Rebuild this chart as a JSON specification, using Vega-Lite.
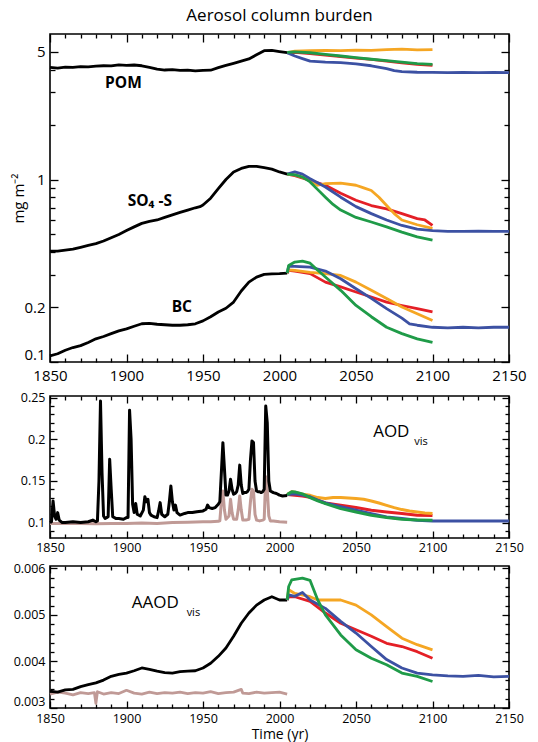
{
  "$schema": "https://vega.github.io/schema/vega-lite/v6.json",
  "padding": {"left": 10, "right": 5, "top": 6, "bottom": 0},
  "spacing": 6,
  "config": {
    "font": "Open Sans",
    "concat": {"spacing": 6},
    "view": {"stroke": "#000", "strokeWidth": 1.6},
    "axis": {"domain": false, "grid": false, "ticks": true, "tickColor": "black", "tickOpacity": 1, "tickWidth": 1.3, "zindex": 1, "labelColor": "#000", "titleColor": "#000", "labelOverlap": false},
    "line": {"strokeWidth": 2.8, "strokeJoin": "round"}
  },
  "datasets": {
    "top": [
      {"s":"POMh","c":"hist","yr":1850,"v":4.12},{"s":"POMh","c":"hist","yr":1855,"v":4.08},{"s":"POMh","c":"hist","yr":1860,"v":4.13},{"s":"POMh","c":"hist","yr":1865,"v":4.11},{"s":"POMh","c":"hist","yr":1870,"v":4.15},{"s":"POMh","c":"hist","yr":1875,"v":4.14},{"s":"POMh","c":"hist","yr":1880,"v":4.18},{"s":"POMh","c":"hist","yr":1885,"v":4.2},{"s":"POMh","c":"hist","yr":1890,"v":4.19},{"s":"POMh","c":"hist","yr":1895,"v":4.25},{"s":"POMh","c":"hist","yr":1900,"v":4.22},{"s":"POMh","c":"hist","yr":1905,"v":4.24},{"s":"POMh","c":"hist","yr":1910,"v":4.2},{"s":"POMh","c":"hist","yr":1915,"v":4.12},{"s":"POMh","c":"hist","yr":1920,"v":4.03},{"s":"POMh","c":"hist","yr":1925,"v":3.98},{"s":"POMh","c":"hist","yr":1930,"v":4.0},{"s":"POMh","c":"hist","yr":1935,"v":3.96},{"s":"POMh","c":"hist","yr":1940,"v":3.97},{"s":"POMh","c":"hist","yr":1945,"v":3.94},{"s":"POMh","c":"hist","yr":1950,"v":3.96},{"s":"POMh","c":"hist","yr":1955,"v":3.97},{"s":"POMh","c":"hist","yr":1960,"v":4.1},{"s":"POMh","c":"hist","yr":1965,"v":4.22},{"s":"POMh","c":"hist","yr":1970,"v":4.33},{"s":"POMh","c":"hist","yr":1975,"v":4.45},{"s":"POMh","c":"hist","yr":1980,"v":4.58},{"s":"POMh","c":"hist","yr":1985,"v":4.82},{"s":"POMh","c":"hist","yr":1990,"v":5.08},{"s":"POMh","c":"hist","yr":1995,"v":5.1},{"s":"POMh","c":"hist","yr":2000,"v":5.02},{"s":"POMh","c":"hist","yr":2005,"v":4.95},
      {"s":"SO4h","c":"hist","yr":1850,"v":0.405},{"s":"SO4h","c":"hist","yr":1855,"v":0.405},{"s":"SO4h","c":"hist","yr":1860,"v":0.41},{"s":"SO4h","c":"hist","yr":1865,"v":0.415},{"s":"SO4h","c":"hist","yr":1870,"v":0.425},{"s":"SO4h","c":"hist","yr":1875,"v":0.435},{"s":"SO4h","c":"hist","yr":1880,"v":0.445},{"s":"SO4h","c":"hist","yr":1885,"v":0.46},{"s":"SO4h","c":"hist","yr":1890,"v":0.48},{"s":"SO4h","c":"hist","yr":1895,"v":0.5},{"s":"SO4h","c":"hist","yr":1900,"v":0.525},{"s":"SO4h","c":"hist","yr":1905,"v":0.55},{"s":"SO4h","c":"hist","yr":1910,"v":0.575},{"s":"SO4h","c":"hist","yr":1915,"v":0.59},{"s":"SO4h","c":"hist","yr":1920,"v":0.6},{"s":"SO4h","c":"hist","yr":1925,"v":0.62},{"s":"SO4h","c":"hist","yr":1930,"v":0.64},{"s":"SO4h","c":"hist","yr":1935,"v":0.66},{"s":"SO4h","c":"hist","yr":1940,"v":0.68},{"s":"SO4h","c":"hist","yr":1945,"v":0.7},{"s":"SO4h","c":"hist","yr":1948,"v":0.71},{"s":"SO4h","c":"hist","yr":1950,"v":0.725},{"s":"SO4h","c":"hist","yr":1955,"v":0.79},{"s":"SO4h","c":"hist","yr":1960,"v":0.89},{"s":"SO4h","c":"hist","yr":1965,"v":1.0},{"s":"SO4h","c":"hist","yr":1970,"v":1.1},{"s":"SO4h","c":"hist","yr":1975,"v":1.15},{"s":"SO4h","c":"hist","yr":1980,"v":1.18},{"s":"SO4h","c":"hist","yr":1985,"v":1.18},{"s":"SO4h","c":"hist","yr":1990,"v":1.16},{"s":"SO4h","c":"hist","yr":1995,"v":1.14},{"s":"SO4h","c":"hist","yr":2000,"v":1.1},{"s":"SO4h","c":"hist","yr":2005,"v":1.07},
      {"s":"BCh","c":"hist","yr":1850,"v":0.108},{"s":"BCh","c":"hist","yr":1855,"v":0.111},{"s":"BCh","c":"hist","yr":1860,"v":0.116},{"s":"BCh","c":"hist","yr":1865,"v":0.12},{"s":"BCh","c":"hist","yr":1870,"v":0.123},{"s":"BCh","c":"hist","yr":1875,"v":0.128},{"s":"BCh","c":"hist","yr":1880,"v":0.134},{"s":"BCh","c":"hist","yr":1885,"v":0.138},{"s":"BCh","c":"hist","yr":1890,"v":0.143},{"s":"BCh","c":"hist","yr":1895,"v":0.148},{"s":"BCh","c":"hist","yr":1900,"v":0.152},{"s":"BCh","c":"hist","yr":1905,"v":0.157},{"s":"BCh","c":"hist","yr":1910,"v":0.162},{"s":"BCh","c":"hist","yr":1915,"v":0.163},{"s":"BCh","c":"hist","yr":1920,"v":0.161},{"s":"BCh","c":"hist","yr":1925,"v":0.16},{"s":"BCh","c":"hist","yr":1930,"v":0.159},{"s":"BCh","c":"hist","yr":1935,"v":0.159},{"s":"BCh","c":"hist","yr":1940,"v":0.16},{"s":"BCh","c":"hist","yr":1945,"v":0.162},{"s":"BCh","c":"hist","yr":1950,"v":0.168},{"s":"BCh","c":"hist","yr":1955,"v":0.177},{"s":"BCh","c":"hist","yr":1960,"v":0.188},{"s":"BCh","c":"hist","yr":1965,"v":0.197},{"s":"BCh","c":"hist","yr":1970,"v":0.213},{"s":"BCh","c":"hist","yr":1975,"v":0.245},{"s":"BCh","c":"hist","yr":1980,"v":0.274},{"s":"BCh","c":"hist","yr":1985,"v":0.292},{"s":"BCh","c":"hist","yr":1990,"v":0.302},{"s":"BCh","c":"hist","yr":1995,"v":0.304},{"s":"BCh","c":"hist","yr":2000,"v":0.305},{"s":"BCh","c":"hist","yr":2005,"v":0.307},
      {"s":"POMr","c":"red","yr":2005,"v":4.95},{"s":"POMr","c":"red","yr":2010,"v":4.98},{"s":"POMr","c":"red","yr":2020,"v":4.9},{"s":"POMr","c":"red","yr":2030,"v":4.8},{"s":"POMr","c":"red","yr":2040,"v":4.72},{"s":"POMr","c":"red","yr":2050,"v":4.63},{"s":"POMr","c":"red","yr":2060,"v":4.55},{"s":"POMr","c":"red","yr":2070,"v":4.45},{"s":"POMr","c":"red","yr":2080,"v":4.36},{"s":"POMr","c":"red","yr":2090,"v":4.28},{"s":"POMr","c":"red","yr":2100,"v":4.22},
      {"s":"SO4r","c":"red","yr":2005,"v":1.07},{"s":"SO4r","c":"red","yr":2010,"v":1.05},{"s":"SO4r","c":"red","yr":2020,"v":0.99},{"s":"SO4r","c":"red","yr":2030,"v":0.93},{"s":"SO4r","c":"red","yr":2040,"v":0.84},{"s":"SO4r","c":"red","yr":2050,"v":0.77},{"s":"SO4r","c":"red","yr":2060,"v":0.72},{"s":"SO4r","c":"red","yr":2070,"v":0.69},{"s":"SO4r","c":"red","yr":2080,"v":0.65},{"s":"SO4r","c":"red","yr":2090,"v":0.61},{"s":"SO4r","c":"red","yr":2095,"v":0.6},{"s":"SO4r","c":"red","yr":2100,"v":0.56},
      {"s":"BCr","c":"red","yr":2005,"v":0.307},{"s":"BCr","c":"red","yr":2006,"v":0.318},{"s":"BCr","c":"red","yr":2010,"v":0.315},{"s":"BCr","c":"red","yr":2020,"v":0.305},{"s":"BCr","c":"red","yr":2030,"v":0.274},{"s":"BCr","c":"red","yr":2040,"v":0.258},{"s":"BCr","c":"red","yr":2050,"v":0.242},{"s":"BCr","c":"red","yr":2060,"v":0.227},{"s":"BCr","c":"red","yr":2070,"v":0.213},{"s":"BCr","c":"red","yr":2080,"v":0.204},{"s":"BCr","c":"red","yr":2090,"v":0.196},{"s":"BCr","c":"red","yr":2100,"v":0.188},
      {"s":"POMo","c":"orange","yr":2005,"v":4.95},{"s":"POMo","c":"orange","yr":2010,"v":5.05},{"s":"POMo","c":"orange","yr":2020,"v":5.08},{"s":"POMo","c":"orange","yr":2030,"v":5.1},{"s":"POMo","c":"orange","yr":2040,"v":5.08},{"s":"POMo","c":"orange","yr":2050,"v":5.12},{"s":"POMo","c":"orange","yr":2060,"v":5.1},{"s":"POMo","c":"orange","yr":2070,"v":5.15},{"s":"POMo","c":"orange","yr":2080,"v":5.18},{"s":"POMo","c":"orange","yr":2090,"v":5.13},{"s":"POMo","c":"orange","yr":2100,"v":5.15},
      {"s":"SO4o","c":"orange","yr":2005,"v":1.07},{"s":"SO4o","c":"orange","yr":2010,"v":1.06},{"s":"SO4o","c":"orange","yr":2015,"v":1.03},{"s":"SO4o","c":"orange","yr":2020,"v":0.99},{"s":"SO4o","c":"orange","yr":2025,"v":0.93},{"s":"SO4o","c":"orange","yr":2030,"v":0.95},{"s":"SO4o","c":"orange","yr":2040,"v":0.955},{"s":"SO4o","c":"orange","yr":2050,"v":0.93},{"s":"SO4o","c":"orange","yr":2055,"v":0.9},{"s":"SO4o","c":"orange","yr":2060,"v":0.87},{"s":"SO4o","c":"orange","yr":2065,"v":0.8},{"s":"SO4o","c":"orange","yr":2070,"v":0.72},{"s":"SO4o","c":"orange","yr":2075,"v":0.65},{"s":"SO4o","c":"orange","yr":2080,"v":0.6},{"s":"SO4o","c":"orange","yr":2090,"v":0.565},{"s":"SO4o","c":"orange","yr":2100,"v":0.54},
      {"s":"BCo","c":"orange","yr":2005,"v":0.307},{"s":"BCo","c":"orange","yr":2006,"v":0.32},{"s":"BCo","c":"orange","yr":2010,"v":0.318},{"s":"BCo","c":"orange","yr":2020,"v":0.31},{"s":"BCo","c":"orange","yr":2030,"v":0.305},{"s":"BCo","c":"orange","yr":2040,"v":0.298},{"s":"BCo","c":"orange","yr":2050,"v":0.274},{"s":"BCo","c":"orange","yr":2060,"v":0.247},{"s":"BCo","c":"orange","yr":2070,"v":0.223},{"s":"BCo","c":"orange","yr":2080,"v":0.2},{"s":"BCo","c":"orange","yr":2090,"v":0.184},{"s":"BCo","c":"orange","yr":2100,"v":0.169},
      {"s":"POMb","c":"blue","yr":2005,"v":4.95},{"s":"POMb","c":"blue","yr":2010,"v":4.75},{"s":"POMb","c":"blue","yr":2015,"v":4.6},{"s":"POMb","c":"blue","yr":2020,"v":4.45},{"s":"POMb","c":"blue","yr":2030,"v":4.4},{"s":"POMb","c":"blue","yr":2040,"v":4.37},{"s":"POMb","c":"blue","yr":2050,"v":4.3},{"s":"POMb","c":"blue","yr":2060,"v":4.2},{"s":"POMb","c":"blue","yr":2070,"v":4.05},{"s":"POMb","c":"blue","yr":2075,"v":3.95},{"s":"POMb","c":"blue","yr":2080,"v":3.9},{"s":"POMb","c":"blue","yr":2090,"v":3.87},{"s":"POMb","c":"blue","yr":2100,"v":3.86},{"s":"POMb","c":"blue","yr":2110,"v":3.85},{"s":"POMb","c":"blue","yr":2120,"v":3.86},{"s":"POMb","c":"blue","yr":2130,"v":3.85},{"s":"POMb","c":"blue","yr":2140,"v":3.86},{"s":"POMb","c":"blue","yr":2150,"v":3.85},
      {"s":"SO4b","c":"blue","yr":2005,"v":1.07},{"s":"SO4b","c":"blue","yr":2010,"v":1.1},{"s":"SO4b","c":"blue","yr":2015,"v":1.07},{"s":"SO4b","c":"blue","yr":2020,"v":1.01},{"s":"SO4b","c":"blue","yr":2030,"v":0.91},{"s":"SO4b","c":"blue","yr":2040,"v":0.8},{"s":"SO4b","c":"blue","yr":2050,"v":0.71},{"s":"SO4b","c":"blue","yr":2060,"v":0.65},{"s":"SO4b","c":"blue","yr":2070,"v":0.6},{"s":"SO4b","c":"blue","yr":2080,"v":0.56},{"s":"SO4b","c":"blue","yr":2090,"v":0.535},{"s":"SO4b","c":"blue","yr":2100,"v":0.525},{"s":"SO4b","c":"blue","yr":2110,"v":0.52},{"s":"SO4b","c":"blue","yr":2120,"v":0.52},{"s":"SO4b","c":"blue","yr":2130,"v":0.522},{"s":"SO4b","c":"blue","yr":2140,"v":0.52},{"s":"SO4b","c":"blue","yr":2150,"v":0.52},
      {"s":"BCb","c":"blue","yr":2005,"v":0.307},{"s":"BCb","c":"blue","yr":2006,"v":0.334},{"s":"BCb","c":"blue","yr":2010,"v":0.334},{"s":"BCb","c":"blue","yr":2020,"v":0.331},{"s":"BCb","c":"blue","yr":2030,"v":0.315},{"s":"BCb","c":"blue","yr":2040,"v":0.286},{"s":"BCb","c":"blue","yr":2050,"v":0.252},{"s":"BCb","c":"blue","yr":2060,"v":0.223},{"s":"BCb","c":"blue","yr":2070,"v":0.196},{"s":"BCb","c":"blue","yr":2080,"v":0.174},{"s":"BCb","c":"blue","yr":2085,"v":0.162},{"s":"BCb","c":"blue","yr":2090,"v":0.159},{"s":"BCb","c":"blue","yr":2100,"v":0.155},{"s":"BCb","c":"blue","yr":2110,"v":0.154},{"s":"BCb","c":"blue","yr":2120,"v":0.155},{"s":"BCb","c":"blue","yr":2130,"v":0.154},{"s":"BCb","c":"blue","yr":2140,"v":0.155},{"s":"BCb","c":"blue","yr":2150,"v":0.155},
      {"s":"POMg","c":"green","yr":2005,"v":4.97},{"s":"POMg","c":"green","yr":2010,"v":5.0},{"s":"POMg","c":"green","yr":2020,"v":4.95},{"s":"POMg","c":"green","yr":2030,"v":4.85},{"s":"POMg","c":"green","yr":2040,"v":4.75},{"s":"POMg","c":"green","yr":2050,"v":4.65},{"s":"POMg","c":"green","yr":2060,"v":4.56},{"s":"POMg","c":"green","yr":2070,"v":4.48},{"s":"POMg","c":"green","yr":2080,"v":4.4},{"s":"POMg","c":"green","yr":2090,"v":4.32},{"s":"POMg","c":"green","yr":2100,"v":4.27},
      {"s":"SO4g","c":"green","yr":2005,"v":1.07},{"s":"SO4g","c":"green","yr":2010,"v":1.06},{"s":"SO4g","c":"green","yr":2015,"v":1.03},{"s":"SO4g","c":"green","yr":2020,"v":0.97},{"s":"SO4g","c":"green","yr":2025,"v":0.88},{"s":"SO4g","c":"green","yr":2030,"v":0.8},{"s":"SO4g","c":"green","yr":2035,"v":0.73},{"s":"SO4g","c":"green","yr":2040,"v":0.68},{"s":"SO4g","c":"green","yr":2050,"v":0.62},{"s":"SO4g","c":"green","yr":2060,"v":0.585},{"s":"SO4g","c":"green","yr":2070,"v":0.55},{"s":"SO4g","c":"green","yr":2080,"v":0.515},{"s":"SO4g","c":"green","yr":2090,"v":0.485},{"s":"SO4g","c":"green","yr":2100,"v":0.465},
      {"s":"BCg","c":"green","yr":2005,"v":0.307},{"s":"BCg","c":"green","yr":2006,"v":0.338},{"s":"BCg","c":"green","yr":2010,"v":0.353},{"s":"BCg","c":"green","yr":2015,"v":0.357},{"s":"BCg","c":"green","yr":2020,"v":0.348},{"s":"BCg","c":"green","yr":2025,"v":0.318},{"s":"BCg","c":"green","yr":2030,"v":0.292},{"s":"BCg","c":"green","yr":2040,"v":0.247},{"s":"BCg","c":"green","yr":2050,"v":0.204},{"s":"BCg","c":"green","yr":2060,"v":0.177},{"s":"BCg","c":"green","yr":2070,"v":0.155},{"s":"BCg","c":"green","yr":2080,"v":0.143},{"s":"BCg","c":"green","yr":2090,"v":0.134},{"s":"BCg","c":"green","yr":2100,"v":0.128}
    ],
    "aod": [
      {"s":"n","c":"nv","yr":1850,"v":0.099},{"s":"n","c":"nv","yr":1860,"v":0.099},{"s":"n","c":"nv","yr":1870,"v":0.099},{"s":"n","c":"nv","yr":1880,"v":0.0985},{"s":"n","c":"nv","yr":1890,"v":0.099},{"s":"n","c":"nv","yr":1900,"v":0.099},{"s":"n","c":"nv","yr":1910,"v":0.0995},{"s":"n","c":"nv","yr":1920,"v":0.099},{"s":"n","c":"nv","yr":1930,"v":0.1},{"s":"n","c":"nv","yr":1940,"v":0.1005},{"s":"n","c":"nv","yr":1950,"v":0.101},{"s":"n","c":"nv","yr":1955,"v":0.101},{"s":"n","c":"nv","yr":1960,"v":0.1015},{"s":"n","c":"nv","yr":1961,"v":0.102},{"s":"n","c":"nv","yr":1962,"v":0.125},{"s":"n","c":"nv","yr":1963,"v":0.138},{"s":"n","c":"nv","yr":1964,"v":0.115},{"s":"n","c":"nv","yr":1965,"v":0.104},{"s":"n","c":"nv","yr":1967,"v":0.108},{"s":"n","c":"nv","yr":1968,"v":0.128},{"s":"n","c":"nv","yr":1969,"v":0.112},{"s":"n","c":"nv","yr":1970,"v":0.104},{"s":"n","c":"nv","yr":1972,"v":0.104},{"s":"n","c":"nv","yr":1973,"v":0.115},{"s":"n","c":"nv","yr":1974,"v":0.132},{"s":"n","c":"nv","yr":1975,"v":0.115},{"s":"n","c":"nv","yr":1976,"v":0.103},{"s":"n","c":"nv","yr":1978,"v":0.103},{"s":"n","c":"nv","yr":1980,"v":0.104},{"s":"n","c":"nv","yr":1981,"v":0.125},{"s":"n","c":"nv","yr":1982,"v":0.14},{"s":"n","c":"nv","yr":1983,"v":0.138},{"s":"n","c":"nv","yr":1984,"v":0.11},{"s":"n","c":"nv","yr":1985,"v":0.103},{"s":"n","c":"nv","yr":1987,"v":0.102},{"s":"n","c":"nv","yr":1989,"v":0.103},{"s":"n","c":"nv","yr":1990,"v":0.104},{"s":"n","c":"nv","yr":1991,"v":0.155},{"s":"n","c":"nv","yr":1992,"v":0.14},{"s":"n","c":"nv","yr":1993,"v":0.108},{"s":"n","c":"nv","yr":1994,"v":0.102},{"s":"n","c":"nv","yr":1996,"v":0.102},{"s":"n","c":"nv","yr":2000,"v":0.101},{"s":"n","c":"nv","yr":2005,"v":0.1005},
      {"s":"h","c":"hist","yr":1850,"v":0.1},{"s":"h","c":"hist","yr":1851,"v":0.101},{"s":"h","c":"hist","yr":1852,"v":0.126},{"s":"h","c":"hist","yr":1853,"v":0.108},{"s":"h","c":"hist","yr":1854,"v":0.104},{"s":"h","c":"hist","yr":1855,"v":0.112},{"s":"h","c":"hist","yr":1856,"v":0.103},{"s":"h","c":"hist","yr":1858,"v":0.1},{"s":"h","c":"hist","yr":1860,"v":0.1},{"s":"h","c":"hist","yr":1865,"v":0.101},{"s":"h","c":"hist","yr":1870,"v":0.1},{"s":"h","c":"hist","yr":1875,"v":0.101},{"s":"h","c":"hist","yr":1878,"v":0.103},{"s":"h","c":"hist","yr":1880,"v":0.101},{"s":"h","c":"hist","yr":1881,"v":0.102},{"s":"h","c":"hist","yr":1882,"v":0.15},{"s":"h","c":"hist","yr":1883,"v":0.246},{"s":"h","c":"hist","yr":1884,"v":0.16},{"s":"h","c":"hist","yr":1885,"v":0.108},{"s":"h","c":"hist","yr":1886,"v":0.105},{"s":"h","c":"hist","yr":1887,"v":0.106},{"s":"h","c":"hist","yr":1888,"v":0.107},{"s":"h","c":"hist","yr":1889,"v":0.176},{"s":"h","c":"hist","yr":1890,"v":0.14},{"s":"h","c":"hist","yr":1891,"v":0.107},{"s":"h","c":"hist","yr":1893,"v":0.105},{"s":"h","c":"hist","yr":1895,"v":0.105},{"s":"h","c":"hist","yr":1898,"v":0.104},{"s":"h","c":"hist","yr":1900,"v":0.106},{"s":"h","c":"hist","yr":1901,"v":0.106},{"s":"h","c":"hist","yr":1902,"v":0.235},{"s":"h","c":"hist","yr":1903,"v":0.2},{"s":"h","c":"hist","yr":1904,"v":0.122},{"s":"h","c":"hist","yr":1905,"v":0.112},{"s":"h","c":"hist","yr":1906,"v":0.123},{"s":"h","c":"hist","yr":1907,"v":0.11},{"s":"h","c":"hist","yr":1909,"v":0.108},{"s":"h","c":"hist","yr":1911,"v":0.115},{"s":"h","c":"hist","yr":1912,"v":0.131},{"s":"h","c":"hist","yr":1913,"v":0.125},{"s":"h","c":"hist","yr":1914,"v":0.128},{"s":"h","c":"hist","yr":1915,"v":0.112},{"s":"h","c":"hist","yr":1916,"v":0.109},{"s":"h","c":"hist","yr":1918,"v":0.107},{"s":"h","c":"hist","yr":1920,"v":0.106},{"s":"h","c":"hist","yr":1921,"v":0.114},{"s":"h","c":"hist","yr":1922,"v":0.124},{"s":"h","c":"hist","yr":1923,"v":0.11},{"s":"h","c":"hist","yr":1925,"v":0.107},{"s":"h","c":"hist","yr":1927,"v":0.11},{"s":"h","c":"hist","yr":1928,"v":0.125},{"s":"h","c":"hist","yr":1929,"v":0.144},{"s":"h","c":"hist","yr":1930,"v":0.125},{"s":"h","c":"hist","yr":1931,"v":0.115},{"s":"h","c":"hist","yr":1932,"v":0.121},{"s":"h","c":"hist","yr":1933,"v":0.112},{"s":"h","c":"hist","yr":1935,"v":0.109},{"s":"h","c":"hist","yr":1938,"v":0.111},{"s":"h","c":"hist","yr":1940,"v":0.112},{"s":"h","c":"hist","yr":1943,"v":0.112},{"s":"h","c":"hist","yr":1946,"v":0.113},{"s":"h","c":"hist","yr":1950,"v":0.114},{"s":"h","c":"hist","yr":1952,"v":0.116},{"s":"h","c":"hist","yr":1953,"v":0.121},{"s":"h","c":"hist","yr":1954,"v":0.118},{"s":"h","c":"hist","yr":1956,"v":0.117},{"s":"h","c":"hist","yr":1958,"v":0.118},{"s":"h","c":"hist","yr":1960,"v":0.122},{"s":"h","c":"hist","yr":1961,"v":0.125},{"s":"h","c":"hist","yr":1962,"v":0.16},{"s":"h","c":"hist","yr":1963,"v":0.196},{"s":"h","c":"hist","yr":1964,"v":0.165},{"s":"h","c":"hist","yr":1965,"v":0.133},{"s":"h","c":"hist","yr":1966,"v":0.133},{"s":"h","c":"hist","yr":1967,"v":0.138},{"s":"h","c":"hist","yr":1968,"v":0.152},{"s":"h","c":"hist","yr":1969,"v":0.14},{"s":"h","c":"hist","yr":1970,"v":0.134},{"s":"h","c":"hist","yr":1971,"v":0.135},{"s":"h","c":"hist","yr":1972,"v":0.137},{"s":"h","c":"hist","yr":1973,"v":0.145},{"s":"h","c":"hist","yr":1974,"v":0.169},{"s":"h","c":"hist","yr":1975,"v":0.145},{"s":"h","c":"hist","yr":1976,"v":0.135},{"s":"h","c":"hist","yr":1977,"v":0.136},{"s":"h","c":"hist","yr":1978,"v":0.136},{"s":"h","c":"hist","yr":1979,"v":0.137},{"s":"h","c":"hist","yr":1980,"v":0.14},{"s":"h","c":"hist","yr":1981,"v":0.175},{"s":"h","c":"hist","yr":1982,"v":0.198},{"s":"h","c":"hist","yr":1983,"v":0.196},{"s":"h","c":"hist","yr":1984,"v":0.15},{"s":"h","c":"hist","yr":1985,"v":0.138},{"s":"h","c":"hist","yr":1986,"v":0.137},{"s":"h","c":"hist","yr":1987,"v":0.137},{"s":"h","c":"hist","yr":1988,"v":0.136},{"s":"h","c":"hist","yr":1989,"v":0.137},{"s":"h","c":"hist","yr":1990,"v":0.14},{"s":"h","c":"hist","yr":1991,"v":0.24},{"s":"h","c":"hist","yr":1992,"v":0.22},{"s":"h","c":"hist","yr":1993,"v":0.15},{"s":"h","c":"hist","yr":1994,"v":0.138},{"s":"h","c":"hist","yr":1996,"v":0.136},{"s":"h","c":"hist","yr":1998,"v":0.135},{"s":"h","c":"hist","yr":2000,"v":0.133},{"s":"h","c":"hist","yr":2002,"v":0.132},{"s":"h","c":"hist","yr":2005,"v":0.1325},
      {"s":"r","c":"red","yr":2005,"v":0.1336},{"s":"r","c":"red","yr":2010,"v":0.1327},{"s":"r","c":"red","yr":2015,"v":0.132},{"s":"r","c":"red","yr":2020,"v":0.1305},{"s":"r","c":"red","yr":2025,"v":0.127},{"s":"r","c":"red","yr":2030,"v":0.1235},{"s":"r","c":"red","yr":2040,"v":0.1207},{"s":"r","c":"red","yr":2050,"v":0.118},{"s":"r","c":"red","yr":2060,"v":0.1148},{"s":"r","c":"red","yr":2070,"v":0.1128},{"s":"r","c":"red","yr":2080,"v":0.1108},{"s":"r","c":"red","yr":2090,"v":0.1088},{"s":"r","c":"red","yr":2100,"v":0.1085},
      {"s":"o","c":"orange","yr":2005,"v":0.1336},{"s":"o","c":"orange","yr":2008,"v":0.137},{"s":"o","c":"orange","yr":2010,"v":0.1365},{"s":"o","c":"orange","yr":2015,"v":0.134},{"s":"o","c":"orange","yr":2020,"v":0.1327},{"s":"o","c":"orange","yr":2025,"v":0.13},{"s":"o","c":"orange","yr":2030,"v":0.1288},{"s":"o","c":"orange","yr":2035,"v":0.13},{"s":"o","c":"orange","yr":2040,"v":0.13},{"s":"o","c":"orange","yr":2045,"v":0.1295},{"s":"o","c":"orange","yr":2050,"v":0.1288},{"s":"o","c":"orange","yr":2055,"v":0.128},{"s":"o","c":"orange","yr":2060,"v":0.126},{"s":"o","c":"orange","yr":2065,"v":0.1235},{"s":"o","c":"orange","yr":2070,"v":0.1207},{"s":"o","c":"orange","yr":2075,"v":0.118},{"s":"o","c":"orange","yr":2080,"v":0.1156},{"s":"o","c":"orange","yr":2085,"v":0.114},{"s":"o","c":"orange","yr":2090,"v":0.1128},{"s":"o","c":"orange","yr":2095,"v":0.1115},{"s":"o","c":"orange","yr":2100,"v":0.1108},
      {"s":"b","c":"blue","yr":2005,"v":0.1336},{"s":"b","c":"blue","yr":2010,"v":0.1345},{"s":"b","c":"blue","yr":2015,"v":0.133},{"s":"b","c":"blue","yr":2020,"v":0.131},{"s":"b","c":"blue","yr":2025,"v":0.127},{"s":"b","c":"blue","yr":2030,"v":0.1235},{"s":"b","c":"blue","yr":2040,"v":0.119},{"s":"b","c":"blue","yr":2050,"v":0.1148},{"s":"b","c":"blue","yr":2060,"v":0.1108},{"s":"b","c":"blue","yr":2070,"v":0.1068},{"s":"b","c":"blue","yr":2080,"v":0.1048},{"s":"b","c":"blue","yr":2090,"v":0.1028},{"s":"b","c":"blue","yr":2100,"v":0.102},{"s":"b","c":"blue","yr":2110,"v":0.1018},{"s":"b","c":"blue","yr":2120,"v":0.102},{"s":"b","c":"blue","yr":2130,"v":0.1018},{"s":"b","c":"blue","yr":2140,"v":0.102},{"s":"b","c":"blue","yr":2150,"v":0.1018},
      {"s":"g","c":"green","yr":2005,"v":0.1336},{"s":"g","c":"green","yr":2008,"v":0.137},{"s":"g","c":"green","yr":2010,"v":0.1367},{"s":"g","c":"green","yr":2015,"v":0.1345},{"s":"g","c":"green","yr":2020,"v":0.13},{"s":"g","c":"green","yr":2025,"v":0.126},{"s":"g","c":"green","yr":2030,"v":0.1228},{"s":"g","c":"green","yr":2040,"v":0.1168},{"s":"g","c":"green","yr":2050,"v":0.1128},{"s":"g","c":"green","yr":2060,"v":0.1088},{"s":"g","c":"green","yr":2070,"v":0.106},{"s":"g","c":"green","yr":2080,"v":0.104},{"s":"g","c":"green","yr":2090,"v":0.1032},{"s":"g","c":"green","yr":2100,"v":0.1028}
    ],
    "aaod": [
      {"s":"n","c":"nv","yr":1850,"v":0.0033},{"s":"n","c":"nv","yr":1855,"v":0.00334},{"s":"n","c":"nv","yr":1860,"v":0.00332},{"s":"n","c":"nv","yr":1865,"v":0.00328},{"s":"n","c":"nv","yr":1870,"v":0.00333},{"s":"n","c":"nv","yr":1875,"v":0.00331},{"s":"n","c":"nv","yr":1879,"v":0.00333},{"s":"n","c":"nv","yr":1880,"v":0.0031},{"s":"n","c":"nv","yr":1881,"v":0.00335},{"s":"n","c":"nv","yr":1885,"v":0.0033},{"s":"n","c":"nv","yr":1890,"v":0.00333},{"s":"n","c":"nv","yr":1895,"v":0.00331},{"s":"n","c":"nv","yr":1900,"v":0.00338},{"s":"n","c":"nv","yr":1905,"v":0.00332},{"s":"n","c":"nv","yr":1910,"v":0.0033},{"s":"n","c":"nv","yr":1915,"v":0.00334},{"s":"n","c":"nv","yr":1920,"v":0.00331},{"s":"n","c":"nv","yr":1925,"v":0.00333},{"s":"n","c":"nv","yr":1930,"v":0.00332},{"s":"n","c":"nv","yr":1935,"v":0.00334},{"s":"n","c":"nv","yr":1940,"v":0.00331},{"s":"n","c":"nv","yr":1945,"v":0.00333},{"s":"n","c":"nv","yr":1950,"v":0.00332},{"s":"n","c":"nv","yr":1955,"v":0.00335},{"s":"n","c":"nv","yr":1960,"v":0.00331},{"s":"n","c":"nv","yr":1965,"v":0.00333},{"s":"n","c":"nv","yr":1970,"v":0.00334},{"s":"n","c":"nv","yr":1975,"v":0.0034},{"s":"n","c":"nv","yr":1976,"v":0.00332},{"s":"n","c":"nv","yr":1980,"v":0.00331},{"s":"n","c":"nv","yr":1985,"v":0.00334},{"s":"n","c":"nv","yr":1990,"v":0.00332},{"s":"n","c":"nv","yr":1995,"v":0.00333},{"s":"n","c":"nv","yr":2000,"v":0.00334},{"s":"n","c":"nv","yr":2005,"v":0.0033},
      {"s":"h","c":"hist","yr":1850,"v":0.00336},{"s":"h","c":"hist","yr":1855,"v":0.00334},{"s":"h","c":"hist","yr":1860,"v":0.00339},{"s":"h","c":"hist","yr":1865,"v":0.0034},{"s":"h","c":"hist","yr":1870,"v":0.00346},{"s":"h","c":"hist","yr":1875,"v":0.0035},{"s":"h","c":"hist","yr":1880,"v":0.00354},{"s":"h","c":"hist","yr":1885,"v":0.0036},{"s":"h","c":"hist","yr":1890,"v":0.00368},{"s":"h","c":"hist","yr":1895,"v":0.00372},{"s":"h","c":"hist","yr":1900,"v":0.00375},{"s":"h","c":"hist","yr":1905,"v":0.0038},{"s":"h","c":"hist","yr":1910,"v":0.00386},{"s":"h","c":"hist","yr":1915,"v":0.00383},{"s":"h","c":"hist","yr":1920,"v":0.00379},{"s":"h","c":"hist","yr":1925,"v":0.00376},{"s":"h","c":"hist","yr":1930,"v":0.00375},{"s":"h","c":"hist","yr":1935,"v":0.00378},{"s":"h","c":"hist","yr":1940,"v":0.00379},{"s":"h","c":"hist","yr":1945,"v":0.0038},{"s":"h","c":"hist","yr":1950,"v":0.00386},{"s":"h","c":"hist","yr":1955,"v":0.00396},{"s":"h","c":"hist","yr":1960,"v":0.00411},{"s":"h","c":"hist","yr":1965,"v":0.00429},{"s":"h","c":"hist","yr":1970,"v":0.00454},{"s":"h","c":"hist","yr":1975,"v":0.00482},{"s":"h","c":"hist","yr":1980,"v":0.00504},{"s":"h","c":"hist","yr":1985,"v":0.00521},{"s":"h","c":"hist","yr":1990,"v":0.00532},{"s":"h","c":"hist","yr":1995,"v":0.00539},{"s":"h","c":"hist","yr":2000,"v":0.00532},{"s":"h","c":"hist","yr":2005,"v":0.00532},
      {"s":"r","c":"red","yr":2005,"v":0.00532},{"s":"r","c":"red","yr":2006,"v":0.00539},{"s":"r","c":"red","yr":2010,"v":0.00539},{"s":"r","c":"red","yr":2020,"v":0.00529},{"s":"r","c":"red","yr":2030,"v":0.00504},{"s":"r","c":"red","yr":2040,"v":0.00482},{"s":"r","c":"red","yr":2050,"v":0.00468},{"s":"r","c":"red","yr":2060,"v":0.00454},{"s":"r","c":"red","yr":2070,"v":0.00439},{"s":"r","c":"red","yr":2080,"v":0.00432},{"s":"r","c":"red","yr":2090,"v":0.00421},{"s":"r","c":"red","yr":2100,"v":0.00407},
      {"s":"o","c":"orange","yr":2005,"v":0.00532},{"s":"o","c":"orange","yr":2006,"v":0.00554},{"s":"o","c":"orange","yr":2010,"v":0.00546},{"s":"o","c":"orange","yr":2020,"v":0.00539},{"s":"o","c":"orange","yr":2025,"v":0.00532},{"s":"o","c":"orange","yr":2030,"v":0.00532},{"s":"o","c":"orange","yr":2040,"v":0.00532},{"s":"o","c":"orange","yr":2050,"v":0.00521},{"s":"o","c":"orange","yr":2060,"v":0.005},{"s":"o","c":"orange","yr":2070,"v":0.00475},{"s":"o","c":"orange","yr":2080,"v":0.0045},{"s":"o","c":"orange","yr":2090,"v":0.00436},{"s":"o","c":"orange","yr":2100,"v":0.00425},
      {"s":"b","c":"blue","yr":2005,"v":0.00532},{"s":"b","c":"blue","yr":2006,"v":0.00543},{"s":"b","c":"blue","yr":2010,"v":0.0054},{"s":"b","c":"blue","yr":2015,"v":0.00548},{"s":"b","c":"blue","yr":2020,"v":0.00532},{"s":"b","c":"blue","yr":2030,"v":0.00514},{"s":"b","c":"blue","yr":2040,"v":0.00486},{"s":"b","c":"blue","yr":2050,"v":0.00461},{"s":"b","c":"blue","yr":2060,"v":0.00432},{"s":"b","c":"blue","yr":2070,"v":0.00404},{"s":"b","c":"blue","yr":2080,"v":0.00386},{"s":"b","c":"blue","yr":2090,"v":0.00375},{"s":"b","c":"blue","yr":2100,"v":0.00371},{"s":"b","c":"blue","yr":2110,"v":0.00369},{"s":"b","c":"blue","yr":2120,"v":0.00368},{"s":"b","c":"blue","yr":2130,"v":0.0037},{"s":"b","c":"blue","yr":2140,"v":0.00367},{"s":"b","c":"blue","yr":2150,"v":0.00368},
      {"s":"g","c":"green","yr":2005,"v":0.00532},{"s":"g","c":"green","yr":2006,"v":0.00561},{"s":"g","c":"green","yr":2008,"v":0.00575},{"s":"g","c":"green","yr":2015,"v":0.00579},{"s":"g","c":"green","yr":2020,"v":0.00574},{"s":"g","c":"green","yr":2025,"v":0.00532},{"s":"g","c":"green","yr":2030,"v":0.005},{"s":"g","c":"green","yr":2040,"v":0.00457},{"s":"g","c":"green","yr":2050,"v":0.00425},{"s":"g","c":"green","yr":2060,"v":0.00407},{"s":"g","c":"green","yr":2070,"v":0.00393},{"s":"g","c":"green","yr":2080,"v":0.00375},{"s":"g","c":"green","yr":2090,"v":0.00368},{"s":"g","c":"green","yr":2100,"v":0.00357}
    ],
    "toplab": [
      {"t":"POM","yr":1886,"v":3.39},
      {"t":"SO₄ -S","yr":1900.8,"v":0.76},
      {"t":"BC","yr":1929.5,"v":0.199}
    ],
    "aodlab": [
      {"t":"AOD","k":"main","yr":2061.2,"v":0.2086},
      {"t":"vis","k":"sub","yr":2088,"v":0.1966}
    ],
    "aaodlab": [
      {"t":"AAOD","k":"main","yr":1903.4,"v":0.005248},
      {"t":"vis","k":"sub","yr":1939.3,"v":0.005047}
    ]
  },
  "vconcat": [
    {
      "width": 459,
      "height": 328,
      "title": {"text": "Aerosol column burden", "fontSize": 17, "fontWeight": "normal", "offset": 8, "color": "#000"},
      "resolve": {"axis": {"x": "independent", "y": "independent"}},
      "layer": [
        {
          "data": {"name": "top"},
          "mark": {"type": "line"},
          "encoding": {
            "x": {"field": "yr", "type": "quantitative", "scale": {"domain": [1850, 2150], "nice": false, "zero": false},
                  "axis": {"orient": "bottom", "values": [1850,1900,1950,2000,2050,2100,2150], "format": "d", "title": null, "offset": -8, "tickSize": 8, "labelPadding": 6, "labelFontSize": 15, "labelFlush": false}},
            "y": {"field": "v", "type": "quantitative", "scale": {"type": "log", "domain": [0.1, 6.27], "nice": false},
                  "axis": {"orient": "left", "values": [0.1, 0.2, 1, 5], "format": "~g", "offset": -8, "tickSize": 8, "labelPadding": 5, "labelFontSize": 15, "labelFlush": 1, "title": "mg m⁻²", "titleFontSize": 15, "titleFontWeight": "normal", "titleX": -32}},
            "color": {"field": "c", "type": "nominal", "legend": null,
                      "scale": {"domain": ["hist","nv","red","orange","blue","green"], "range": ["#000000","#c09a96","#e41f26","#f5a623","#3c51a3","#1f9b48"]}},
            "detail": {"field": "s"}
          }
        },
        {
          "data": {"name": "toplab"},
          "mark": {"type": "text", "align": "left", "baseline": "middle", "fontSize": 15.5, "fontWeight": "bold", "color": "#000"},
          "encoding": {
            "x": {"field": "yr", "type": "quantitative", "scale": {"domain": [1850, 2150], "nice": false, "zero": false},
                  "axis": {"orient": "bottom", "values": [1860,1870,1880,1890,1910,1920,1930,1940,1960,1970,1980,1990,2010,2020,2030,2040,2060,2070,2080,2090,2110,2120,2130,2140], "labels": false, "title": null, "offset": -4, "tickSize": 4}},
            "y": {"field": "v", "type": "quantitative", "scale": {"type": "log", "domain": [0.1, 6.27], "nice": false},
                  "axis": {"orient": "left", "values": [0.3,0.4,0.5,0.6,0.7,0.8,0.9,2,3,4], "labels": false, "title": null, "offset": -5, "tickSize": 5}},
            "text": {"field": "t"}
          }
        },
        {
          "data": {"name": "top"},
          "transform": [{"filter": "false"}],
          "mark": {"type": "point", "opacity": 0},
          "encoding": {
            "x": {"field": "yr", "type": "quantitative", "scale": {"domain": [1850, 2150], "nice": false, "zero": false},
                  "axis": {"orient": "top", "values": [1850,1900,1950,2000,2050,2100,2150], "labels": false, "title": null, "offset": -8, "tickSize": 8}},
            "y": {"field": "v", "type": "quantitative", "scale": {"type": "log", "domain": [0.1, 6.27], "nice": false},
                  "axis": {"orient": "right", "values": [0.1, 0.2, 1, 5], "labels": false, "title": null, "offset": -8, "tickSize": 8}}
          }
        },
        {
          "data": {"name": "top"},
          "transform": [{"filter": "false"}],
          "mark": {"type": "point", "opacity": 0},
          "encoding": {
            "x": {"field": "yr", "type": "quantitative", "scale": {"domain": [1850, 2150], "nice": false, "zero": false},
                  "axis": {"orient": "top", "values": [1860,1870,1880,1890,1910,1920,1930,1940,1960,1970,1980,1990,2010,2020,2030,2040,2060,2070,2080,2090,2110,2120,2130,2140], "labels": false, "title": null, "offset": -4, "tickSize": 4}},
            "y": {"field": "v", "type": "quantitative", "scale": {"type": "log", "domain": [0.1, 6.27], "nice": false},
                  "axis": {"orient": "right", "values": [0.3,0.4,0.5,0.6,0.7,0.8,0.9,2,3,4], "labels": false, "title": null, "offset": -5, "tickSize": 5}}
          }
        }
      ]
    },
    {
      "width": 459,
      "height": 142,
      "resolve": {"axis": {"x": "independent", "y": "independent"}},
      "layer": [
        {
          "data": {"name": "aod"},
          "mark": {"type": "line", "strokeWidth": 3},
          "encoding": {
            "x": {"field": "yr", "type": "quantitative", "scale": {"domain": [1850, 2150], "nice": false, "zero": false},
                  "axis": {"orient": "bottom", "values": [1850,1900,1950,2000,2050,2100,2150], "format": "d", "title": null, "offset": -7, "tickSize": 7, "labelPadding": 3, "labelFontSize": 12.5, "labelFlush": false}},
            "y": {"field": "v", "type": "quantitative", "scale": {"domain": [0.0815, 0.252], "nice": false, "zero": false},
                  "axis": {"orient": "left", "values": [0.1, 0.15, 0.2, 0.25], "format": "~g", "offset": -7, "tickSize": 7, "labelPadding": 5, "labelFontSize": 12.5, "labelFlush": 1, "title": null}},
            "color": {"field": "c", "type": "nominal", "legend": null,
                      "scale": {"domain": ["hist","nv","red","orange","blue","green"], "range": ["#000000","#c09a96","#e41f26","#f5a623","#3c51a3","#1f9b48"]}},
            "detail": {"field": "s"}
          }
        },
        {
          "data": {"name": "aodlab"},
          "transform": [{"filter": "datum.k == 'main'"}],
          "mark": {"type": "text", "align": "left", "baseline": "middle", "fontSize": 17, "color": "#000"},
          "encoding": {
            "x": {"field": "yr", "type": "quantitative", "scale": {"domain": [1850, 2150], "nice": false, "zero": false},
                  "axis": {"orient": "bottom", "values": [1860,1870,1880,1890,1910,1920,1930,1940,1960,1970,1980,1990,2010,2020,2030,2040,2060,2070,2080,2090,2110,2120,2130,2140], "labels": false, "title": null, "offset": -4, "tickSize": 4}},
            "y": {"field": "v", "type": "quantitative", "scale": {"domain": [0.0815, 0.252], "nice": false, "zero": false},
                  "axis": {"orient": "left", "values": [0.09,0.11,0.12,0.13,0.14,0.16,0.17,0.18,0.19,0.21,0.22,0.23,0.24], "labels": false, "title": null, "offset": -4, "tickSize": 4}},
            "text": {"field": "t"}
          }
        },
        {
          "data": {"name": "aodlab"},
          "transform": [{"filter": "datum.k == 'sub'"}],
          "mark": {"type": "text", "align": "left", "baseline": "middle", "fontSize": 11, "color": "#000"},
          "encoding": {
            "x": {"field": "yr", "type": "quantitative", "scale": {"domain": [1850, 2150], "nice": false, "zero": false},
                  "axis": {"orient": "top", "values": [1850,1900,1950,2000,2050,2100,2150], "labels": false, "title": null, "offset": -7, "tickSize": 7}},
            "y": {"field": "v", "type": "quantitative", "scale": {"domain": [0.0815, 0.252], "nice": false, "zero": false},
                  "axis": {"orient": "right", "values": [0.1, 0.15, 0.2, 0.25], "labels": false, "title": null, "offset": -7, "tickSize": 7}},
            "text": {"field": "t"}
          }
        },
        {
          "data": {"name": "aod"},
          "transform": [{"filter": "false"}],
          "mark": {"type": "point", "opacity": 0},
          "encoding": {
            "x": {"field": "yr", "type": "quantitative", "scale": {"domain": [1850, 2150], "nice": false, "zero": false},
                  "axis": {"orient": "top", "values": [1860,1870,1880,1890,1910,1920,1930,1940,1960,1970,1980,1990,2010,2020,2030,2040,2060,2070,2080,2090,2110,2120,2130,2140], "labels": false, "title": null, "offset": -4, "tickSize": 4}},
            "y": {"field": "v", "type": "quantitative", "scale": {"domain": [0.0815, 0.252], "nice": false, "zero": false},
                  "axis": {"orient": "right", "values": [0.09,0.11,0.12,0.13,0.14,0.16,0.17,0.18,0.19,0.21,0.22,0.23,0.24], "labels": false, "title": null, "offset": -4, "tickSize": 4}}
          }
        }
      ]
    },
    {
      "width": 459,
      "height": 142,
      "resolve": {"axis": {"x": "independent", "y": "independent"}},
      "layer": [
        {
          "data": {"name": "aaod"},
          "mark": {"type": "line", "strokeWidth": 2.8},
          "encoding": {
            "x": {"field": "yr", "type": "quantitative", "scale": {"domain": [1850, 2150], "nice": false, "zero": false},
                  "axis": {"orient": "bottom", "values": [1850,1900,1950,2000,2050,2100,2150], "format": "d", "offset": -7, "tickSize": 7, "labelPadding": 4, "labelFontSize": 12.5, "labelFlush": false, "title": "Time (yr)", "titleFontSize": 14, "titleFontWeight": "normal", "titlePadding": 3}},
            "y": {"field": "v", "type": "quantitative", "scale": {"domain": [0.003, 0.00605], "nice": false, "zero": false},
                  "axis": {"orient": "left", "values": [0.003, 0.004, 0.005, 0.006], "format": "~g", "offset": -7, "tickSize": 7, "labelPadding": 5, "labelFontSize": 12.5, "labelFlush": 1, "title": null}},
            "color": {"field": "c", "type": "nominal", "legend": null,
                      "scale": {"domain": ["hist","nv","red","orange","blue","green"], "range": ["#000000","#c09a96","#e41f26","#f5a623","#3c51a3","#1f9b48"]}},
            "detail": {"field": "s"}
          }
        },
        {
          "data": {"name": "aaodlab"},
          "transform": [{"filter": "datum.k == 'main'"}],
          "mark": {"type": "text", "align": "left", "baseline": "middle", "fontSize": 17, "color": "#000"},
          "encoding": {
            "x": {"field": "yr", "type": "quantitative", "scale": {"domain": [1850, 2150], "nice": false, "zero": false},
                  "axis": {"orient": "bottom", "values": [1860,1870,1880,1890,1910,1920,1930,1940,1960,1970,1980,1990,2010,2020,2030,2040,2060,2070,2080,2090,2110,2120,2130,2140], "labels": false, "title": null, "offset": -4, "tickSize": 4}},
            "y": {"field": "v", "type": "quantitative", "scale": {"domain": [0.003, 0.00605], "nice": false, "zero": false},
                  "axis": {"orient": "left", "values": [0.0032,0.0034,0.0036,0.0038,0.0042,0.0044,0.0046,0.0048,0.0052,0.0054,0.0056,0.0058], "labels": false, "title": null, "offset": -4, "tickSize": 4}},
            "text": {"field": "t"}
          }
        },
        {
          "data": {"name": "aaodlab"},
          "transform": [{"filter": "datum.k == 'sub'"}],
          "mark": {"type": "text", "align": "left", "baseline": "middle", "fontSize": 11, "color": "#000"},
          "encoding": {
            "x": {"field": "yr", "type": "quantitative", "scale": {"domain": [1850, 2150], "nice": false, "zero": false},
                  "axis": {"orient": "top", "values": [1850,1900,1950,2000,2050,2100,2150], "labels": false, "title": null, "offset": -7, "tickSize": 7}},
            "y": {"field": "v", "type": "quantitative", "scale": {"domain": [0.003, 0.00605], "nice": false, "zero": false},
                  "axis": {"orient": "right", "values": [0.003, 0.004, 0.005, 0.006], "labels": false, "title": null, "offset": -7, "tickSize": 7}},
            "text": {"field": "t"}
          }
        },
        {
          "data": {"name": "aaod"},
          "transform": [{"filter": "false"}],
          "mark": {"type": "point", "opacity": 0},
          "encoding": {
            "x": {"field": "yr", "type": "quantitative", "scale": {"domain": [1850, 2150], "nice": false, "zero": false},
                  "axis": {"orient": "top", "values": [1860,1870,1880,1890,1910,1920,1930,1940,1960,1970,1980,1990,2010,2020,2030,2040,2060,2070,2080,2090,2110,2120,2130,2140], "labels": false, "title": null, "offset": -4, "tickSize": 4}},
            "y": {"field": "v", "type": "quantitative", "scale": {"domain": [0.003, 0.00605], "nice": false, "zero": false},
                  "axis": {"orient": "right", "values": [0.0032,0.0034,0.0036,0.0038,0.0042,0.0044,0.0046,0.0048,0.0052,0.0054,0.0056,0.0058], "labels": false, "title": null, "offset": -4, "tickSize": 4}}
          }
        }
      ]
    }
  ]
}
